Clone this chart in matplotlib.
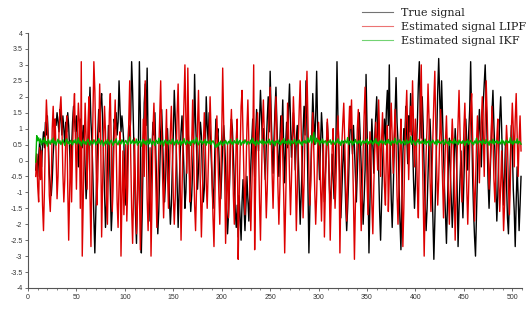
import numpy as np
import matplotlib
matplotlib.use("Agg")
import matplotlib.pyplot as plt
from matplotlib.ticker import MultipleLocator, FuncFormatter

# ---------------- data ----------------
x_start = 8

true_signal = [
    -0.3, 0.2, -0.5, 0.1, 0.6, 0.3, -0.2, 0.5, 0.9, 0.4,
    1.2, 0.8, 1.4, 0.6, -0.4, -0.8, -1.1, -0.6, 0.2, 0.7,
    1.3, 1.1, 1.5, 1.2, 0.9, 1.6, 1.3, 0.8, 1.4, 1.0,
    0.5, 1.2, 0.9, 1.5, 1.1, 0.3, -0.5, 0.4, 1.2, 1.7,
    1.3, 0.9, 1.4, 0.6, -0.2, 0.8, 1.3, 1.0, 0.4, 1.1,
    0.7, -0.3, -1.2, -0.6, 0.5, 1.4, 2.3, 1.2, 0.6, -0.5,
    -1.8, -2.9, -1.6, -0.4, 0.8, 1.6, 0.9, 1.8, 2.1, 1.3,
    0.2, -0.9, -2.1, -1.4, -0.2, 1.1, 0.3, -1.0, -2.2, -1.5,
    0.4, 1.3, 1.0, 1.5, 0.8, 1.2, 2.5, 1.6, 0.9, 1.4,
    1.0, 0.5, -0.6, -1.4, -0.8, 0.3, 1.1, 0.7, 1.3, 3.1,
    2.2, 0.9, -0.4, -1.7, -2.6, -1.2, 0.5, 3.1, 1.4, -2.9,
    -1.5, 0.3, 1.8, 2.4, 1.1, 2.9, 0.6, -0.8, -1.9, -0.7,
    0.4, 1.2, 0.8, 1.5, 0.2, -1.1, -2.3, -1.6, -0.3, 0.9,
    1.6, 0.7, -0.5, -1.3, -0.6, 0.4, 1.0, 0.2, -1.2, -2.0,
    -1.4, -0.2, 0.8, 2.2, 1.3, 0.5, -0.8, -2.1, -1.0, 0.1,
    0.9, 1.4, 0.6, -0.3, -1.5, -1.0, 0.2, 1.1, 0.5, -0.7,
    -1.6, -1.1, -0.2, 0.6, 2.7, 1.2, 0.4, -0.9, -0.3, 0.5,
    1.2, 0.8, -0.4, -1.3, -0.9, 0.3, 2.0, 1.1, 0.6, 1.5,
    0.9, 0.2, -0.6, -1.5, -0.8, 0.4, 1.3, 0.7, 1.0, 0.3,
    -0.5, -1.2, -0.4, 0.5, 1.1, 0.6, -0.2, -1.4, -2.3, -1.7,
    -0.8, 0.4, 1.3, 1.0, 0.2, -0.7, -1.6, -2.1, -1.4, -2.4,
    -1.1, -1.8, -2.5, -1.3, -0.6, -1.5, -2.2, -1.4, -0.5, -1.2,
    -1.9, -1.0, -0.2, 0.6, 1.3, 0.4, -0.5, 0.8, 1.6, 0.9,
    0.3, 1.2, 2.2, 1.4, 0.6, 1.0, 0.1, -0.6, 0.5, 1.3,
    2.0, 0.9, 2.8, 1.5, 0.4, -0.4, 0.7, 1.6, 2.3, 1.1,
    0.2, -0.5, 0.6, 1.4, 0.8, 1.9, 0.3, -0.7, 0.5, 1.2,
    0.4, 1.6, 2.4, 1.3, 0.1, 0.8, 1.5, 0.6, -0.3, 0.7,
    1.1, 0.2, -0.9, -2.0, -1.1, -0.2, 0.9, 1.7, 0.8, 2.5,
    1.0, -0.8, -2.9, -1.5, -0.3, 0.9, 2.1, 1.3, 0.5, 1.4,
    2.8, 1.1, 0.2, -0.6, 0.4, 1.5, 0.9, -0.5, -1.3, -0.4,
    0.3, 1.2, 0.6, -0.7, -1.5, -0.9, 0.2, -0.5, -1.2, -0.4,
    0.8, 3.1, 1.3, 0.4, -0.6, -1.8, -1.0, -0.1, 0.6, -0.3,
    -1.4, -2.2, -1.5, -0.6, 0.5, 1.7, 0.9, 0.2, 1.1, 0.4,
    -0.5, -1.3, -0.4, 0.6, 1.5, 0.7, -0.2, -1.1, -2.0, -1.2,
    -0.3, 2.7, 1.0, -0.6, -2.9, -1.4, 0.2, 1.3, 0.5, -0.4,
    0.7, 1.4, 2.0, 0.9, -0.3, -1.6, -2.5, -1.3, -0.2, 0.8,
    1.3, 0.5, 1.6, 2.2, 1.1, 3.0, 0.4, -1.2, -2.1, -1.0,
    0.3, 1.5, 2.6, 1.2, 0.6, -0.7, -1.9, -2.8, -1.3, 0.2,
    1.0, 0.5, 1.7, 0.8, -0.1, 1.4, 0.9, 2.1, 1.3, 0.6,
    -0.6, -1.5, -0.7, 0.4, 1.2, 2.4, 3.1, 1.5, 0.7, 2.0,
    1.1, -0.3, -1.4, -2.2, -1.5, -0.4, 0.6, 1.3, 0.5, -0.6,
    -1.8, -3.1, -1.9, -0.5, 0.8, 2.2, 3.2, 2.0, 0.9, 2.5,
    1.3, 0.2, -0.9, -1.7, -2.6, -1.4, -0.2, 0.7, -0.4, -1.2,
    -2.1, -1.3, 0.1, 1.0, 0.4, -0.8, -2.7, -1.5, -0.6, 0.3,
    -0.9, -1.8, -0.7, 0.5, 1.3, 0.6, -0.3, 0.9, 1.6, 3.1,
    1.2, -0.5, -1.6, -2.4, -3.0, -1.7, -0.4, 0.8, 1.6, 0.7,
    -0.2, 0.9, 1.8, 2.4, 3.0, 1.9, 0.6, -0.7, -1.5, -0.6,
    0.4, 1.5, 2.2, 1.1, 0.3, -0.8, -1.9, -1.1, 0.2, 1.3,
    2.0, 1.0, -0.3, -1.4, -0.5, 0.6, -0.7, -1.8, -2.3, -1.2,
    0.1, 1.1, 0.4, -0.9, -1.6, -2.7, -1.3, -0.2, -1.1, -2.2,
    -1.4, -0.5,
]

lipf_signal = [
    -0.5, 0.2, -0.8, -1.3, 0.4, -0.6, 0.3, -1.4, -2.2, -0.9,
    0.8, 1.9, 1.2, 0.4, -1.1, -1.6, -0.7, 1.0, 1.7, 0.6,
    1.3, 0.2, -1.2, -0.5, 0.9, 1.6, 2.0, 1.1, -0.4, -1.3,
    -0.6, 0.7, 1.4, -0.8, -2.5, -1.0, 0.5, -1.3, 0.3, 1.5,
    2.1, 0.6, -0.9, 0.8, 1.8, 1.2, -1.5, 3.1, -3.0, -1.2,
    0.4, 1.8, 0.7, -0.9, 1.2, 2.0, -1.1, -2.7, -0.4, 1.3,
    3.1, 2.2, 0.5, -1.4, -0.6, 0.8, 2.4, 1.0, -2.4, -0.8,
    0.6, 1.7, 0.9, -1.2, -2.0, -0.3, 1.5, 2.1, 0.4, -1.6,
    -0.5, 0.8, 1.9, 0.6, -1.3, -2.1, -0.7, 0.9, -3.0, -1.2,
    0.3, -1.7, -0.6, 0.5, -1.9, -0.8, 1.2, 2.5, 0.2, -1.5,
    -2.6, -1.1, 0.7, -0.8, -2.3, -1.4, 0.5, -1.0, -2.8, -1.6,
    -0.2, 1.3, -0.5, 2.5, 0.6, -1.2, -2.2, -0.9, 0.4, -3.0,
    -1.3, 0.9, 1.8, 0.6, -0.8, -2.1, -1.0, 0.3, 1.4, 2.5,
    0.8, -0.6, -1.8, -0.7, 0.5, 1.6, -0.3, -1.5, -0.4, 0.9,
    1.7, 0.4, -1.1, -2.0, -1.2, 0.2, 1.5, 2.4, 0.7, -0.5,
    -2.5, -1.0, 0.6, 1.8, 3.0, 1.2, -0.4, 2.9, 0.8, -1.3,
    -0.6, 0.5, 1.9, 0.3, -1.4, -2.2, -0.9, 1.1, 2.2, 0.7,
    -0.8, -2.4, -1.2, 0.4, 1.5, 0.6, -0.7, -1.5, -0.3, 1.0,
    2.0, 0.9, -0.5, -1.8, -2.7, -1.1, 0.6, 1.4, 0.2, -1.0,
    -2.0, -0.7, 0.8, 2.9, 1.3, -0.4, -2.6, -1.2, 0.5, -1.8,
    -0.6, 0.9, 1.6, 0.4, -1.1, -2.0, -0.8, 0.7, 1.3, -3.1,
    -1.2, 0.3, 1.7, 2.2, 0.8, -0.6, -1.7, -0.5, 1.0, 1.9,
    0.6, -0.9, -2.2, -1.0, 0.3, 3.0, -2.8, -0.7, 0.9, 1.5,
    0.4, -1.3, -2.5, -0.6, 1.1, 1.9, 0.8, -0.5, -1.8, -0.9,
    0.5, 1.6, 2.3, 0.9, -0.4, -1.5, -0.3, 1.2, 2.0, 0.7,
    -0.8, -2.0, -0.9, 0.6, 1.4, 0.2, -1.1, -2.9, -1.3, 0.4,
    1.8, 0.9, -0.5, -1.7, -0.6, 0.8, 2.0, 1.1, -0.2, -2.2,
    -1.0, 0.5, 1.6, 2.5, 1.0, -0.4, -1.8, -0.7, 0.9, 1.7,
    2.8, 1.2, -0.3, -1.4, -0.6, 0.7, 1.5, 0.4, -0.9, -2.0,
    -1.1, 0.3, 1.2, 0.5, -0.8, -1.9, -0.7, 0.6, -2.4, -1.0,
    0.5, 1.3, 0.6, -0.7, -2.5, -1.2, 0.4, 1.0, -0.4, -1.5,
    -0.6, 0.8, 1.4, 0.3, -2.9, -1.0, 0.5, 1.2, 1.8, 0.6,
    -0.8, -1.9, -0.7, 0.9, 1.7, 1.0, 1.9, 0.4, -1.2, -3.1,
    -1.4, -0.2, 1.0, 1.6, 0.7, -0.9, -2.2, -1.1, 0.3, 1.4,
    2.3, 0.8, -0.6, -1.7, -0.5, 0.9, 0.2, -1.4, -2.3, -0.8,
    0.4, 1.2, 0.5, -0.3, 1.9, 0.8, -0.5, 0.6, 1.5, 0.3,
    -0.8, -1.4, 0.2, 1.1, -1.6, -0.5, 0.9, 1.8, 0.7, -0.4,
    0.8, 1.6, 0.5, -1.1, -2.0, -0.8, 0.4, 1.3, -0.9, -2.7,
    -1.5, 0.2, 1.4, 2.2, 0.9, -0.6, 0.5, 1.7, 0.8, 2.5,
    1.1, -0.2, 1.3, 0.4, -0.9, -1.8, 0.3, 1.9, 3.0, 0.6,
    -1.2, -3.0, -1.4, 0.2, 1.1, 2.4, 1.3, -0.5, -1.6, -0.4,
    0.8, 1.9, 2.8, 1.0, -0.3, -1.4, -0.6, 0.7, 1.6, 0.5,
    -0.7, -1.8, -0.5, 0.6, 1.4, 0.3, -1.0, -2.0, -0.9, 0.4,
    1.3, 0.5, -0.8, -2.5, -1.2, 0.2, 1.2, 2.2, 0.9, -0.4,
    -1.3, -0.3, 1.0, 1.8, 0.6, -0.9, -2.0, -0.8, 0.5, 1.6,
    2.1, 0.7, -0.6, -1.9, -0.8, 0.5, 1.4, 0.6, -0.7, 0.4,
    1.2, 2.0, 0.9, -0.5, 1.3, 2.5, 1.5, 0.2, -0.9, -0.2,
    0.6, 1.7, 0.8, -0.6, -1.3, -0.4, 0.7, 1.3, -0.5, -1.6,
    -0.8, 0.3, -1.0, -2.2, -1.4, 0.1, 1.1, 0.5, -0.8, -1.7,
    -0.6, 0.9, 1.8, 1.0, -0.2, 1.3, 2.1, 0.8, -0.5, 0.6,
    1.4, 0.3,
]

ikf_signal = [
    -0.05, 0.78, 0.62, 0.71, 0.55, 0.68, 0.49, 0.63, 0.57, 0.72, 0.52, 0.60, 0.45, 0.66, 0.58, 0.51, 0.64, 0.56, 0.70, 0.53,
    0.61, 0.48, 0.59, 0.67, 0.54, 0.62, 0.50, 0.58, 0.65, 0.55, 0.47, 0.60, 0.68, 0.53, 0.59, 0.51, 0.63, 0.57, 0.49, 0.62,
    0.56, 0.66, 0.52, 0.58, 0.71, 0.54, 0.60, 0.46, 0.57, 0.64, 0.53, 0.59, 0.50, 0.61, 0.67, 0.55, 0.48, 0.62, 0.57, 0.52,
    0.65, 0.58, 0.49, 0.60, 0.54, 0.69, 0.56, 0.51, 0.63, 0.58, 0.46, 0.55, 0.61, 0.52, 0.66, 0.57, 0.50, 0.59, 0.64, 0.53,
    0.47, 0.60, 0.56, 0.68, 0.54, 0.49, 0.62, 0.57, 0.52, 0.65, 0.59, 0.48, 0.58, 0.63, 0.55, 0.50, 0.61, 0.74, 0.53, 0.57,
    0.64, 0.51, 0.59, 0.55, 0.67, 0.48, 0.60, 0.56, 0.62, 0.45, 0.58, 0.66, 0.53, 0.60, 0.49, 0.63, 0.57, 0.52, 0.68, 0.55,
    0.50, 0.61, 0.57, 0.47, 0.64, 0.59, 0.53, 0.70, 0.56, 0.51, 0.62, 0.58, 0.46, 0.60, 0.65, 0.54, 0.59, 0.50, 0.63, 0.56,
    0.52, 0.67, 0.58, 0.49, 0.61, 0.55, 0.64, 0.51, 0.57, 0.62, 0.48, 0.59, 0.54, 0.69, 0.56, 0.50, 0.63, 0.58, 0.53, 0.60,
    0.47, 0.62, 0.56, 0.65, 0.52, 0.58, 0.72, 0.54, 0.49, 0.61, 0.57, 0.63, 0.51, 0.59, 0.55, 0.66, 0.48, 0.60, 0.57, 0.53,
    0.64, 0.50, 0.58, 0.62, 0.55, 0.46, 0.41, 0.52, 0.44, 0.57, 0.49, 0.61, 0.54, 0.47, 0.59, 0.53, 0.63, 0.56, 0.50, 0.60,
    0.55, 0.66, 0.52, 0.58, 0.49, 0.62, 0.57, 0.54, 0.68, 0.51, 0.59, 0.63, 0.48, 0.56, 0.61, 0.53, 0.65, 0.58, 0.50, 0.60,
    0.57, 0.52, 0.64, 0.55, 0.70, 0.53, 0.59, 0.47, 0.62, 0.56, 0.51, 0.63, 0.58, 0.54, 0.66, 0.49, 0.60, 0.57, 0.52, 0.61,
    0.55, 0.67, 0.50, 0.58, 0.63, 0.53, 0.59, 0.46, 0.61, 0.56, 0.64, 0.52, 0.57, 0.49, 0.62, 0.55, 0.69, 0.53, 0.58, 0.60,
    0.51, 0.65, 0.56, 0.48, 0.62, 0.57, 0.53, 0.66, 0.59, 0.50, 0.61, 0.55, 0.64, 0.52, 0.58, 0.47, 0.60, 0.56, 0.63, 0.54,
    0.59, 0.71, 0.57, 0.62, 0.78, 0.55, 0.66, 0.88, 0.60, 0.52, 0.70, 0.58, 0.64, 0.49, 0.61, 0.56, 0.67, 0.53, 0.59, 0.62,
    0.54, 0.48, 0.60, 0.57, 0.65, 0.51, 0.58, 0.63, 0.55, 0.50, 0.61, 0.56, 0.68, 0.53, 0.59, 0.47, 0.62, 0.57, 0.52, 0.64,
    0.58, 0.55, 0.72, 0.50, 0.60, 0.56, 0.63, 0.49, 0.59, 0.54, 0.66, 0.57, 0.52, 0.61, 0.55, 0.64, 0.48, 0.58, 0.62, 0.53,
    0.60, 0.56, 0.67, 0.51, 0.59, 0.54, 0.63, 0.57, 0.50, 0.62, 0.55, 0.69, 0.53, 0.58, 0.47, 0.61, 0.56, 0.64, 0.52, 0.60,
    0.57, 0.50, 0.63, 0.55, 0.66, 0.53, 0.59, 0.48, 0.62, 0.58, 0.54, 0.70, 0.56, 0.51, 0.61, 0.57, 0.65, 0.52, 0.59, 0.55,
    0.62, 0.49, 0.58, 0.64, 0.53, 0.60, 0.56, 0.74, 0.51, 0.57, 0.63, 0.55, 0.48, 0.61, 0.58, 0.66, 0.52, 0.59, 0.54, 0.62,
    0.57, 0.53, 0.67, 0.50, 0.60, 0.56, 0.63, 0.47, 0.59, 0.55, 0.64, 0.58, 0.52, 0.61, 0.49, 0.65, 0.56, 0.60, 0.53, 0.58,
    0.62, 0.55, 0.50, 0.66, 0.57, 0.53, 0.60, 0.48, 0.63, 0.56, 0.59, 0.52, 0.68, 0.54, 0.61, 0.57, 0.50, 0.64, 0.55, 0.59,
    0.53, 0.62, 0.58, 0.47, 0.60, 0.56, 0.65, 0.51, 0.59, 0.63, 0.54, 0.57, 0.49, 0.61, 0.55, 0.70, 0.52, 0.58, 0.62, 0.56,
    0.60, 0.50, 0.64, 0.57, 0.53, 0.66, 0.55, 0.59, 0.48, 0.62, 0.58, 0.54, 0.67, 0.51, 0.60, 0.56, 0.63, 0.53, 0.59, 0.57,
    0.52, 0.65, 0.55, 0.61, 0.49, 0.58, 0.64, 0.54, 0.60, 0.56, 0.72, 0.53, 0.59, 0.50, 0.62, 0.57, 0.55, 0.68, 0.52, 0.60,
    0.58, 0.51,
]

legend_labels = ["True signal", "Estimated signal LIPF", "Estimated signal IKF"]
series_colors = ["#000000", "#dd0000", "#00b000"]

x_ticks = list(range(0, 501, 50))
y_ticks = [v / 2 for v in range(-8, 9)]

# ---------------- figure ----------------
W, H = 529, 309
fig = plt.figure(figsize=(W / 100, H / 100), dpi=100)
ax = fig.add_axes([28 / W, (H - 288) / H, (522 - 28) / W, (288 - 33) / H])

series = [true_signal, lipf_signal, ikf_signal]
for vals, lab, col in zip(series, legend_labels, series_colors):
    xs = np.arange(x_start, x_start + len(vals))
    ax.plot(xs, vals, color=col, lw=1.0, label=lab)

ax.set_xlim(0, 510)
ax.set_ylim(-4, 4)

for s in ["top", "right"]:
    ax.spines[s].set_visible(False)
for s in ["left", "bottom"]:
    ax.spines[s].set_color("#555555")
    ax.spines[s].set_linewidth(0.8)

ax.set_xticks(x_ticks)
ax.set_yticks(y_ticks)
ax.xaxis.set_minor_locator(MultipleLocator(10))
ax.yaxis.set_major_formatter(FuncFormatter(lambda v, p: ("%g" % v).replace("\u2212", "-")))
ax.xaxis.set_major_formatter(FuncFormatter(lambda v, p: "%d" % v))
ax.tick_params(axis="both", which="major", direction="out", length=2.5, width=0.6,
               colors="#555555", labelcolor="#333333", labelsize=5, pad=1.5)
ax.tick_params(axis="x", which="minor", direction="out", length=1.5, width=0.5, colors="#555555")
for lbl in ax.get_xticklabels() + ax.get_yticklabels():
    lbl.set_family("Liberation Sans")

leg = ax.legend(loc="upper left", bbox_to_anchor=(362 / W, 1 - 8 / H), bbox_transform=fig.transFigure,
                frameon=False, prop={"family": "DejaVu Serif", "size": 8},
                handlelength=2.8, handletextpad=0.7, labelspacing=0.35,
                borderaxespad=0, borderpad=0)
for ln in leg.get_lines():
    ln.set_linewidth(0.8)
    ln.set_alpha(0.55)
for t in leg.get_texts():
    t.set_color("#222222")

fig.savefig("out.png", dpi=100)
